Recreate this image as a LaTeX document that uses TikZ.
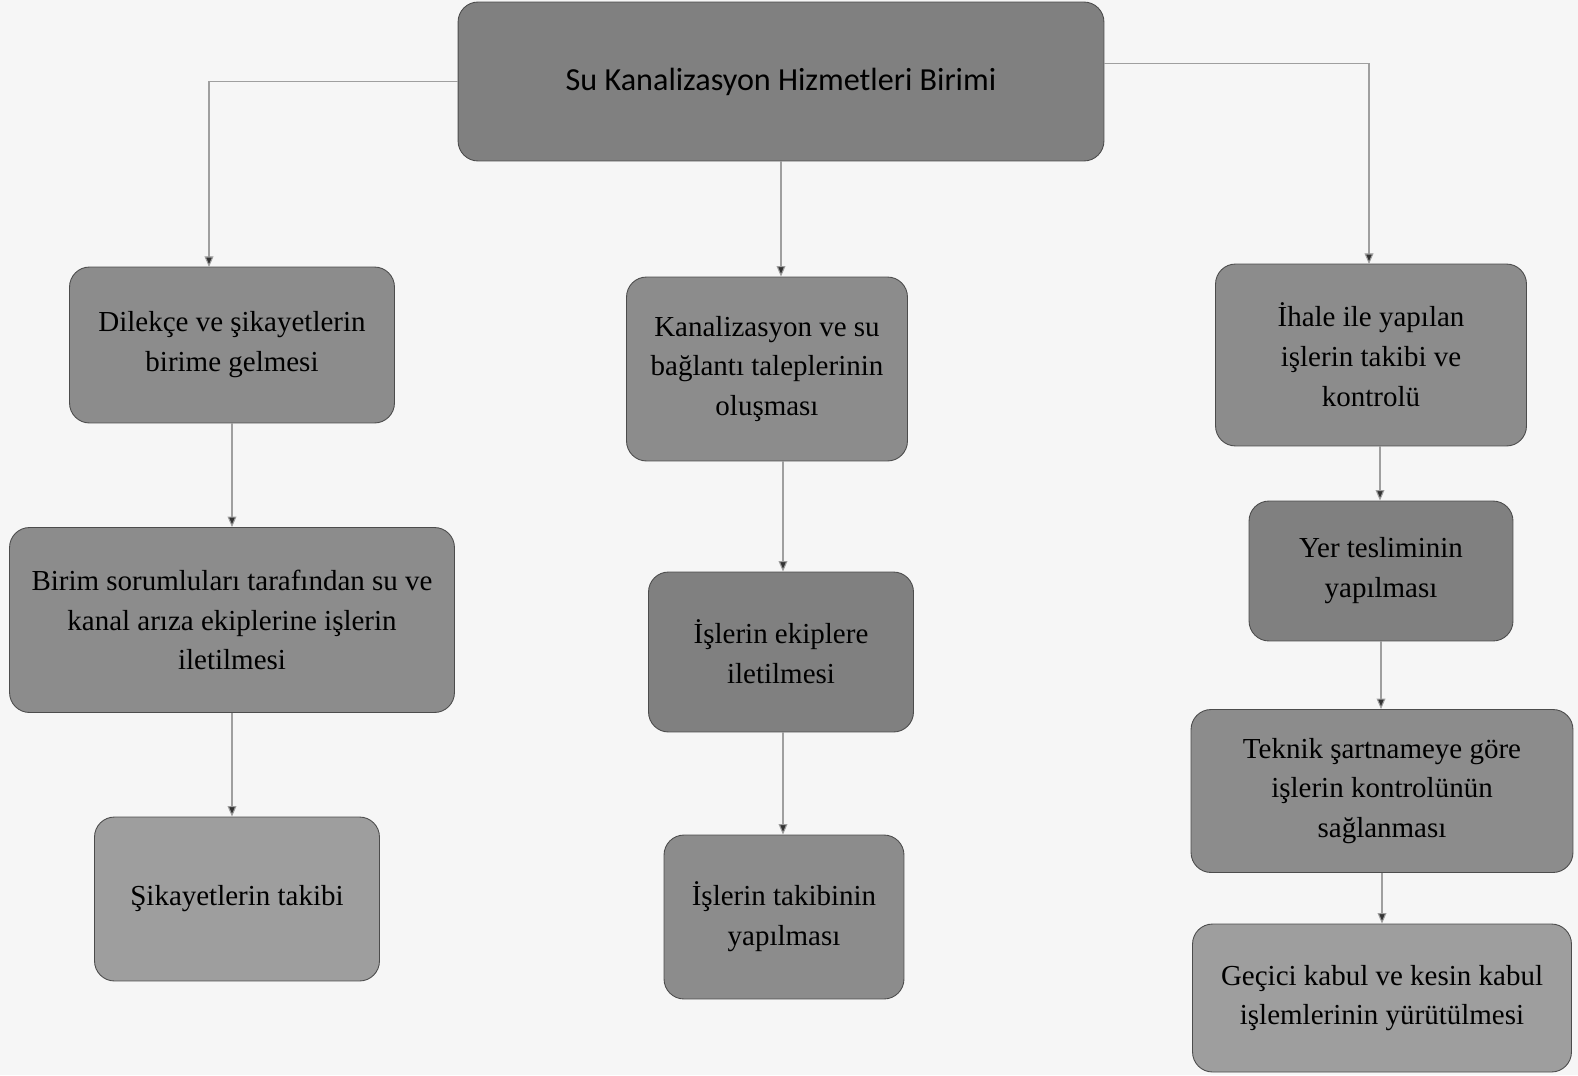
\documentclass[tikz,border=0pt]{standalone}
\usepackage{fontspec}
\setmainfont{Liberation Serif}
\newfontfamily\calibri{Carlito}
\usetikzlibrary{arrows.meta}

\definecolor{boxdark}{gray}{0.50}
\definecolor{boxmid}{gray}{0.55}
\definecolor{boxlight}{gray}{0.62}
\definecolor{paper}{gray}{0.965}

\tikzset{
  box/.style={draw=gray!60!black, line width=0.5pt, fill=boxmid, rounded corners=0.4cm,
              align=center, inner sep=0pt, font=\fontsize{16.5}{22.7}\selectfont},
  arr/.style={draw=gray!75, line width=0.6pt, -{Triangle[length=6pt,width=5pt,fill=black!80]}}
}

\begin{document}
\begin{tikzpicture}[x=0.02cm,y=-0.02cm]
               \fill[paper] (0,0) rectangle (1578,1075);
               \useasboundingbox (0,0) rectangle (1578,1075);

               \node[box, fill=boxdark, minimum width=12.92cm, minimum height=3.18cm,
                     font=\calibri\fontsize{18.3}{22}\selectfont] (top) at (781,81.5) {Su Kanalizasyon Hizmetleri Birimi};

               % left column
               \node[box, minimum width=6.5cm, minimum height=3.12cm] (dilekce) at (232,345) {Dilekçe ve şikayetlerin\\birime gelmesi};
               \node[box, minimum width=8.9cm, minimum height=3.7cm] (sorumlu) at (232,620) {Birim sorumluları tarafından su ve\\kanal arıza ekiplerine işlerin\\iletilmesi};
               \node[box, fill=boxlight, minimum width=5.7cm, minimum height=3.28cm] (sikayet) at (237,899) {Şikayetlerin takibi};

               % middle column
               \node[box, minimum width=5.62cm, minimum height=3.68cm] (talep) at (767,369) {Kanalizasyon ve su\\bağlantı taleplerinin\\oluşması};
               \node[box, fill=boxdark, minimum width=5.3cm, minimum height=3.2cm] (ekip) at (781,652) {İşlerin ekiplere\\iletilmesi};
               \node[box, minimum width=4.8cm, minimum height=3.28cm] (takip) at (784,917) {İşlerin takibinin\\yapılması};

               % right column
               \node[box, minimum width=6.22cm, minimum height=3.64cm] (ihale) at (1371,355) {İhale ile yapılan\\işlerin takibi ve\\kontrolü};
               \node[box, fill=boxdark, minimum width=5.28cm, minimum height=2.8cm] (yer) at (1381,571) {Yer tesliminin\\yapılması};
               \node[box, minimum width=7.64cm, minimum height=3.26cm] (teknik) at (1382,791) {Teknik şartnameye göre\\işlerin kontrolünün\\sağlanması};
               \node[box, fill=boxlight, minimum width=7.58cm, minimum height=2.96cm] (gecici) at (1382,998) {Geçici kabul ve kesin kabul\\işlemlerinin yürütülmesi};

               \coordinate (solgiris) at (209,267);
               \coordinate (saggiris) at (1369,264);

               \draw[arr] (top.west) -| (solgiris);
               \draw[arr] (top.south) -- (top.south |- talep.north);
               \draw[arr] ([yshift=0.36cm]top.east) -| (saggiris);

               \draw[arr] (dilekce.south) -- (dilekce.south |- sorumlu.north);
               \draw[arr] (sorumlu.south) -- (sorumlu.south |- sikayet.north);
               \draw[arr] ([xshift=0.32cm]talep.south) -- ([xshift=0.32cm]talep.south |- ekip.north);
               \draw[arr] ([xshift=0.04cm]ekip.south) -- ([xshift=0.04cm]ekip.south |- takip.north);
               \draw[arr] ([xshift=0.18cm]ihale.south) -- ([xshift=0.18cm]ihale.south |- yer.north);
               \draw[arr] (yer.south) -- (yer.south |- teknik.north);
               \draw[arr] (teknik.south) -- (teknik.south |- gecici.north);
            \end{tikzpicture}
\end{document}
